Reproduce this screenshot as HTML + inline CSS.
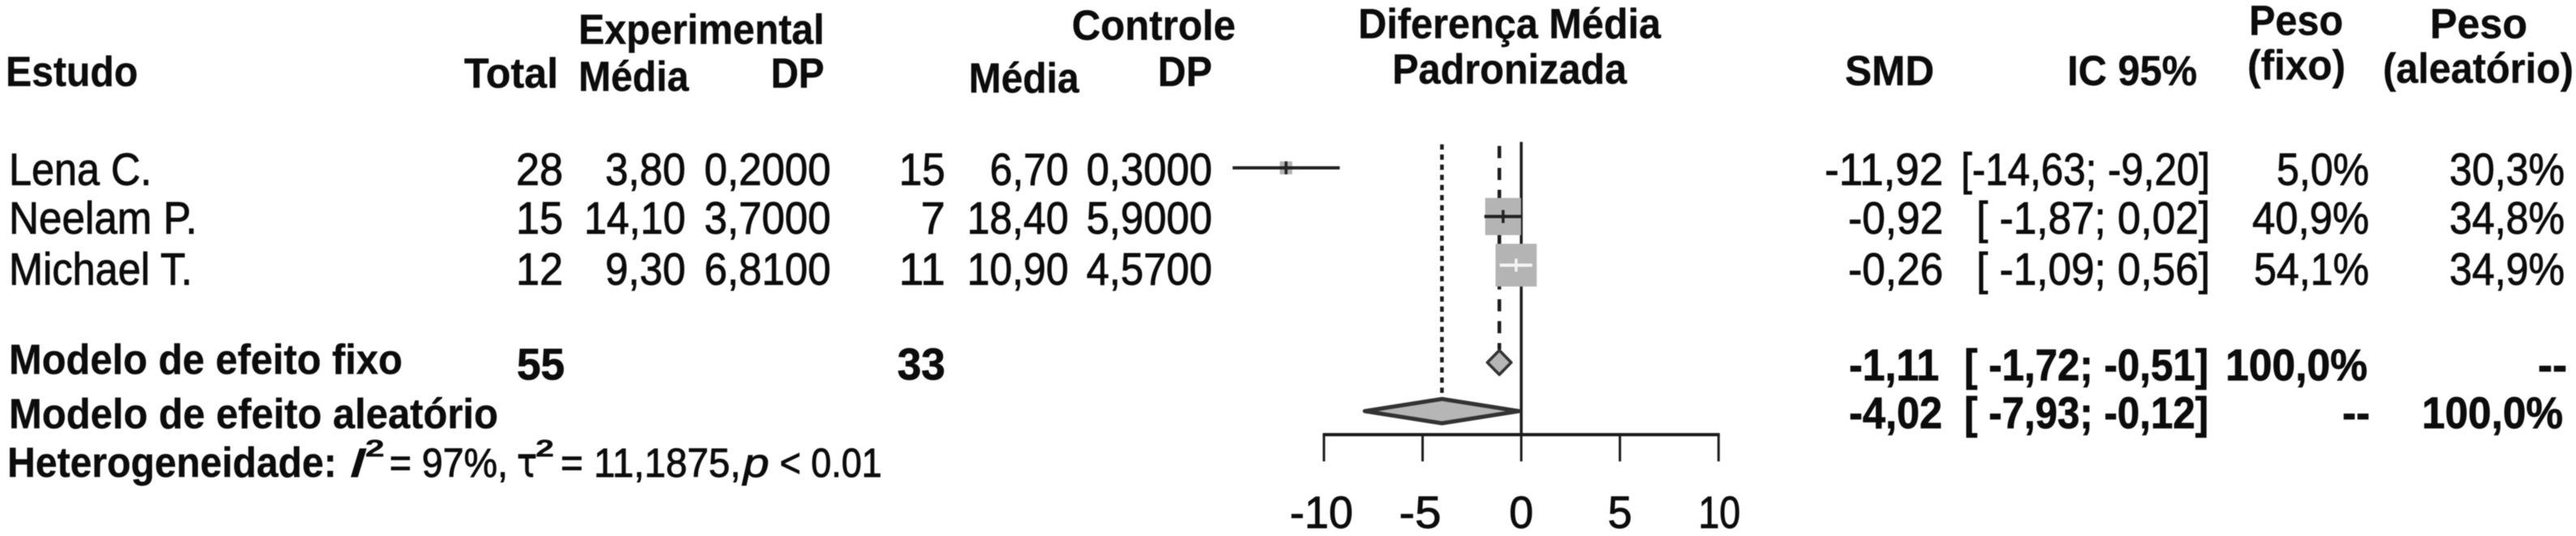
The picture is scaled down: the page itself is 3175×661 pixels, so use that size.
<!DOCTYPE html>
<html lang="pt">
<head>
<meta charset="utf-8">
<title>Forest plot</title>
<style>
html,body{margin:0;padding:0;background:#fff;width:3175px;height:661px;overflow:hidden}
svg{display:block;filter:blur(0.6px)}
text{font-family:"Liberation Sans",sans-serif;fill:#0c0c0c;stroke:#0c0c0c}
.r{font-size:56px;stroke-width:0.9px}
.b{font-size:52px;font-weight:bold;stroke-width:0.4px}
.n{font-size:55px;font-weight:bold;stroke-width:0.8px}
.h{font-size:50px;stroke-width:0.9px}
.s{font-size:30px;font-weight:bold;stroke-width:0.3px}
</style>
</head>
<body>
<svg id="forest" xmlns="http://www.w3.org/2000/svg" width="3175" height="661" viewBox="0 0 3175 661">
<rect width="3175" height="661" fill="#fff"/>

<g>
<text class="b" x="7" y="106" textLength="163" lengthAdjust="spacingAndGlyphs">Estudo</text>
<text class="b" x="572" y="108" textLength="116" lengthAdjust="spacingAndGlyphs">Total</text>
<text class="b" x="713" y="54" textLength="303" lengthAdjust="spacingAndGlyphs">Experimental</text>
<text class="b" x="713" y="112" textLength="136" lengthAdjust="spacingAndGlyphs">Média</text>
<text class="b" x="950" y="108" textLength="66" lengthAdjust="spacingAndGlyphs">DP</text>
<text class="b" x="1321" y="49" textLength="202" lengthAdjust="spacingAndGlyphs">Controle</text>
<text class="b" x="1194" y="114" textLength="136" lengthAdjust="spacingAndGlyphs">Média</text>
<text class="b" x="1427" y="106" textLength="67" lengthAdjust="spacingAndGlyphs">DP</text>
<text class="b" x="1674" y="47" textLength="373" lengthAdjust="spacingAndGlyphs">Diferença Média</text>
<text class="b" x="1716" y="103" textLength="289" lengthAdjust="spacingAndGlyphs">Padronizada</text>
<text class="b" x="2274" y="105" textLength="110" lengthAdjust="spacingAndGlyphs">SMD</text>
<text class="b" x="2548" y="105" textLength="160" lengthAdjust="spacingAndGlyphs">IC 95%</text>
<text class="b" x="2772" y="43" textLength="116" lengthAdjust="spacingAndGlyphs">Peso</text>
<text class="b" x="2770" y="98" textLength="121" lengthAdjust="spacingAndGlyphs">(fixo)</text>
<text class="b" x="2995" y="47" textLength="120" lengthAdjust="spacingAndGlyphs">Peso</text>
<text class="b" x="2937" y="102" textLength="235" lengthAdjust="spacingAndGlyphs">(aleatório)</text>
</g>

<g>
<text class="r" x="11" y="228" textLength="176" lengthAdjust="spacingAndGlyphs">Lena C.</text>
<text class="r" x="636" y="228" textLength="58" lengthAdjust="spacingAndGlyphs">28</text>
<text class="r" x="746" y="228" textLength="99" lengthAdjust="spacingAndGlyphs">3,80</text>
<text class="r" x="868" y="228" textLength="156" lengthAdjust="spacingAndGlyphs">0,2000</text>
<text class="r" x="1108" y="228" textLength="57" lengthAdjust="spacingAndGlyphs">15</text>
<text class="r" x="1220" y="228" textLength="97" lengthAdjust="spacingAndGlyphs">6,70</text>
<text class="r" x="1339" y="228" textLength="155" lengthAdjust="spacingAndGlyphs">0,3000</text>
<text class="r" x="2249" y="228" textLength="146" lengthAdjust="spacingAndGlyphs">-11,92</text>
<text class="r" x="2417" y="228" textLength="307" lengthAdjust="spacingAndGlyphs">[-14,63; -9,20]</text>
<text class="r" x="2806" y="228" textLength="114" lengthAdjust="spacingAndGlyphs">5,0%</text>
<text class="r" x="3019" y="228" textLength="142" lengthAdjust="spacingAndGlyphs">30,3%</text>
</g>

<g>
<text class="r" x="11" y="288" textLength="232" lengthAdjust="spacingAndGlyphs">Neelam P.</text>
<text class="r" x="636" y="288" textLength="58" lengthAdjust="spacingAndGlyphs">15</text>
<text class="r" x="720" y="288" textLength="125" lengthAdjust="spacingAndGlyphs">14,10</text>
<text class="r" x="868" y="288" textLength="156" lengthAdjust="spacingAndGlyphs">3,7000</text>
<text class="r" x="1135" y="288" textLength="30" lengthAdjust="spacingAndGlyphs">7</text>
<text class="r" x="1192" y="288" textLength="125" lengthAdjust="spacingAndGlyphs">18,40</text>
<text class="r" x="1339" y="288" textLength="155" lengthAdjust="spacingAndGlyphs">5,9000</text>
<text class="r" x="2278" y="288" textLength="117" lengthAdjust="spacingAndGlyphs">-0,92</text>
<text class="r" x="2436" y="288" textLength="288" lengthAdjust="spacingAndGlyphs">[ -1,87; 0,02]</text>
<text class="r" x="2776" y="288" textLength="144" lengthAdjust="spacingAndGlyphs">40,9%</text>
<text class="r" x="3019" y="288" textLength="142" lengthAdjust="spacingAndGlyphs">34,8%</text>
</g>

<g>
<text class="r" x="11" y="351" textLength="226" lengthAdjust="spacingAndGlyphs">Michael T.</text>
<text class="r" x="636" y="351" textLength="58" lengthAdjust="spacingAndGlyphs">12</text>
<text class="r" x="746" y="351" textLength="99" lengthAdjust="spacingAndGlyphs">9,30</text>
<text class="r" x="868" y="351" textLength="156" lengthAdjust="spacingAndGlyphs">6,8100</text>
<text class="r" x="1108" y="351" textLength="57" lengthAdjust="spacingAndGlyphs">11</text>
<text class="r" x="1192" y="351" textLength="125" lengthAdjust="spacingAndGlyphs">10,90</text>
<text class="r" x="1339" y="351" textLength="155" lengthAdjust="spacingAndGlyphs">4,5700</text>
<text class="r" x="2278" y="351" textLength="117" lengthAdjust="spacingAndGlyphs">-0,26</text>
<text class="r" x="2436" y="351" textLength="288" lengthAdjust="spacingAndGlyphs">[ -1,09; 0,56]</text>
<text class="r" x="2778" y="351" textLength="142" lengthAdjust="spacingAndGlyphs">54,1%</text>
<text class="r" x="3019" y="351" textLength="142" lengthAdjust="spacingAndGlyphs">34,9%</text>
</g>

<g>
<text class="b" x="11" y="461" textLength="485" lengthAdjust="spacingAndGlyphs">Modelo de efeito fixo</text>
<text class="n" x="637" y="468" textLength="59" lengthAdjust="spacingAndGlyphs">55</text>
<text class="n" x="1106" y="468" textLength="59" lengthAdjust="spacingAndGlyphs">33</text>
<text class="n" x="2279" y="469" textLength="111" lengthAdjust="spacingAndGlyphs">-1,11</text>
<text class="n" x="2421" y="469" textLength="301" lengthAdjust="spacingAndGlyphs">[ -1,72; -0,51]</text>
<text class="n" x="2743" y="469" textLength="175" lengthAdjust="spacingAndGlyphs">100,0%</text>
<text class="n" x="3128" y="469" textLength="36" lengthAdjust="spacingAndGlyphs">--</text>
</g>

<g>
<text class="b" x="11" y="528" textLength="603" lengthAdjust="spacingAndGlyphs">Modelo de efeito aleatório</text>
<text class="n" x="2279" y="528" textLength="115" lengthAdjust="spacingAndGlyphs">-4,02</text>
<text class="n" x="2421" y="528" textLength="301" lengthAdjust="spacingAndGlyphs">[ -7,93; -0,12]</text>
<text class="n" x="2887" y="528" textLength="34" lengthAdjust="spacingAndGlyphs">--</text>
<text class="n" x="2985" y="528" textLength="174" lengthAdjust="spacingAndGlyphs">100,0%</text>
</g>

<g>
<text class="b" x="9" y="588" textLength="406" lengthAdjust="spacingAndGlyphs">Heterogeneidade:</text>
<text class="h" x="430" y="588" font-style="italic" textLength="22" lengthAdjust="spacingAndGlyphs">I</text>
<text class="s" x="450" y="563" textLength="24" lengthAdjust="spacingAndGlyphs">2</text>
<text class="h" x="480" y="588" textLength="146" lengthAdjust="spacingAndGlyphs">= 97%,</text>
<text class="h" x="637" y="588" textLength="25" lengthAdjust="spacingAndGlyphs" style="font-family:'DejaVu Sans',sans-serif">τ</text>
<text class="s" x="660" y="563" textLength="23" lengthAdjust="spacingAndGlyphs">2</text>
<text class="h" x="691" y="588" textLength="222" lengthAdjust="spacingAndGlyphs">= 11,1875,</text>
<text class="h" x="916" y="588" font-style="italic" textLength="32" lengthAdjust="spacingAndGlyphs">p</text>
<text class="h" x="961" y="588" textLength="126" lengthAdjust="spacingAndGlyphs">&lt; 0.01</text>
</g>

<g id="plot"></g>
</svg>

<script>
// Forest plot data
const studies = ['Lena C.', 'Neelam P.', 'Michael T.'];
const smd = [-11.92, -0.92, -0.26];
const ciLow = [-14.63, -1.87, -1.09];
const ciHigh = [-9.20, 0.02, 0.56];
const weightFixed = [5.0, 40.9, 54.1];
const summaryNames = ['fixed', 'random'];
const summarySmd = [-1.11, -4.02];
const summaryLow = [-1.72, -7.93];
const summaryHigh = [-0.51, -0.12];
const tickValues = [-10, -5, 0, 5, 10];
const tickLabels = ['-10', '-5', '0', '5', '10'];

const NS = 'http://www.w3.org/2000/svg';
const plot = document.getElementById('plot');
const xScale = v => 1875 + v * 24.32;
const rowY = r => 207 + 60 * r;
const axisY = 536;

function make(tag, attrs) {
  const el = document.createElementNS(NS, tag);
  for (const k in attrs) el.setAttribute(k, attrs[k]);
  plot.appendChild(el);
  return el;
}

// reference lines
const zeroLine = make('line', {x1: xScale(0), x2: xScale(0), y1: 175, y2: axisY, stroke: '#1c1c1c', 'stroke-width': 3.5});



const fixedLine = make('line', {x1: xScale(summarySmd[0]), x2: xScale(summarySmd[0]), y1: 180, y2: rowY(4) - 16, stroke: '#1c1c1c', 'stroke-width': 4.5, 'stroke-dasharray': '15 12'});



const randomLine = make('line', {x1: xScale(summarySmd[1]), x2: xScale(summarySmd[1]), y1: 178, y2: rowY(5) - 19, stroke: '#1c1c1c', 'stroke-width': 4.5, 'stroke-dasharray': '6.5 6'});



// study squares and confidence intervals
studies.forEach((name, i) => {
  const size = Math.sqrt(weightFixed[i]) * 6.9;
  const px = xScale(smd[i]);
  const y = rowY(i);
  const ciWidth = xScale(ciHigh[i]) - xScale(ciLow[i]);
  const color = ciWidth < size ? '#f4f4f4' : '#222';

  const box = make('rect', {x: px - size / 2, y: y - size * 0.52, width: size, height: size * 1.04, fill: '#b4b4b4'});
  
  

  const ci = make('line', {x1: xScale(ciLow[i]), x2: xScale(ciHigh[i]), y1: y, y2: y, stroke: color, 'stroke-width': 4});
  
  

  const tick = make('line', {x1: px, x2: px, y1: y - 8, y2: y + 8, stroke: color, 'stroke-width': 3.5});
  
  
});

// summary diamonds
summaryNames.forEach((name, i) => {
  const y = rowY(4 + i);
  const pts = [
    [xScale(summaryLow[i]), y],
    [xScale(summarySmd[i]), y - 15],
    [xScale(summaryHigh[i]), y],
    [xScale(summarySmd[i]), y + 15]
  ].map(p => p.join(',')).join(' ');
  const d = make('polygon', {points: pts, fill: '#b6b6b6', stroke: '#333', 'stroke-width': i === 1 ? 5 : 3.5, 'stroke-linejoin': 'round'});
  
  
});

// x axis
const axisLine = make('line', {x1: xScale(tickValues[0]) - 1.5, x2: xScale(tickValues[tickValues.length - 1]) + 1.5, y1: axisY, y2: axisY, stroke: '#1c1c1c', 'stroke-width': 4});



tickValues.forEach((v, i) => {
  const t = make('line', {x1: xScale(v), x2: xScale(v), y1: axisY, y2: 569, stroke: '#1c1c1c', 'stroke-width': 3});
  
  

  const label = make('text', {x: xScale(v) - (v < 0 ? 3 : v > 5 ? -1 : 0), y: 651, 'text-anchor': 'middle', 'class': 'r'});
  label.setAttribute('textLength', tickLabels[i].length * 26 + (tickLabels[i].length > 1 ? 0 : 4));
  label.setAttribute('lengthAdjust', 'spacingAndGlyphs');
  label.textContent = tickLabels[i];
  
  
});
</script>
</body>
</html>
